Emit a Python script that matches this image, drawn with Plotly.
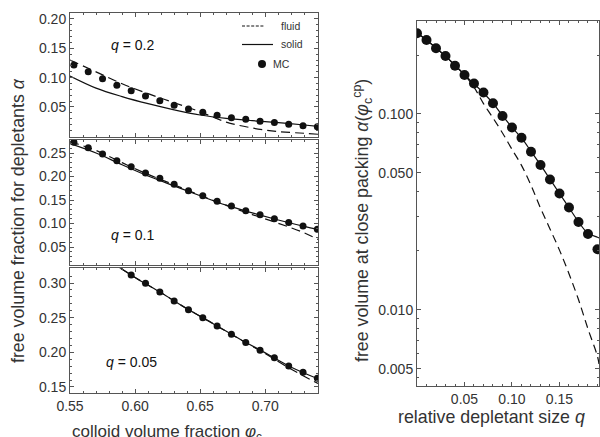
import plotly.graph_objects as go

# ---------------- data ----------------
# left panels: free volume fraction vs colloid volume fraction
phi_mc = [0.553, 0.564, 0.575, 0.586, 0.597, 0.608, 0.619, 0.630, 0.641,
          0.652, 0.663, 0.674, 0.685, 0.696, 0.707, 0.718, 0.729, 0.740]
mc_q02 = [0.1216, 0.1102, 0.0982, 0.0870, 0.0778, 0.0688, 0.0607, 0.0529, 0.0466,
          0.0410, 0.0359, 0.0318, 0.0290, 0.0256, 0.0236, 0.0207, 0.0181, 0.0164]
mc_q01 = [0.2728, 0.2613, 0.2479, 0.2336, 0.2209, 0.2074, 0.1962, 0.1834, 0.1698,
          0.1591, 0.1472, 0.1372, 0.1272, 0.1187, 0.1102, 0.1021, 0.0947, 0.0877]
phi_mc_q005 = [0.597, 0.608, 0.619, 0.630, 0.641, 0.652, 0.663, 0.674, 0.685,
               0.696, 0.707, 0.718, 0.729, 0.740]
mc_q005 = [0.3115, 0.2996, 0.2870, 0.2740, 0.2615, 0.2500, 0.2380, 0.2260, 0.2142,
           0.2029, 0.1923, 0.1803, 0.1712, 0.1625]

phi_line = [0.55, 0.57, 0.59, 0.61, 0.63, 0.65, 0.67, 0.69, 0.71, 0.73, 0.7405]
fluid_q02 = [0.130, 0.1099, 0.0896, 0.0727, 0.0573, 0.0418, 0.0243, 0.0142, 0.0081, 0.0052, 0.0035]
solid_q02 = [0.1028, 0.0822, 0.0677, 0.0556, 0.0452, 0.0364, 0.0306, 0.0267, 0.0233, 0.0193, 0.0171]
fluid_q01 = [0.274, 0.2555, 0.2295, 0.2045, 0.1825, 0.160, 0.1385, 0.119, 0.1005, 0.080, 0.066]
solid_q01 = [0.270, 0.250, 0.225, 0.201, 0.180, 0.159, 0.139, 0.1225, 0.1075, 0.094, 0.0873]
phi_line_q005 = [0.58, 0.60, 0.62, 0.64, 0.66, 0.68, 0.70, 0.72, 0.7405]
fluid_q005 = [0.332, 0.308, 0.2858, 0.2627, 0.2413, 0.2192, 0.1980, 0.1755, 0.155]
solid_q005 = [0.332, 0.308, 0.2858, 0.2627, 0.2413, 0.2196, 0.1992, 0.1785, 0.1618]

# right panel: free volume at close packing vs relative depletant size
q_mc = [0.00, 0.01, 0.02, 0.03, 0.04, 0.05, 0.06, 0.07, 0.08, 0.09,
        0.10, 0.11, 0.12, 0.13, 0.14, 0.15, 0.16, 0.17, 0.18, 0.19]
cp_mc = [0.258, 0.2385, 0.2164, 0.1976, 0.1764, 0.158, 0.143, 0.1287, 0.1134, 0.0977,
         0.0853, 0.0756, 0.0642, 0.0549, 0.0463, 0.0393, 0.0333, 0.0281, 0.0244, 0.0204]
q_line = [0.00, 0.01, 0.02, 0.03, 0.04, 0.05, 0.06, 0.07, 0.08, 0.09,
          0.10, 0.11, 0.12, 0.13, 0.14, 0.15, 0.16, 0.17, 0.18, 0.19, 0.1916]
cp_solid = [0.259, 0.2385, 0.217, 0.1975, 0.177, 0.1585, 0.1425, 0.128, 0.1135, 0.098,
            0.0855, 0.0755, 0.0645, 0.055, 0.0465, 0.0393, 0.0333, 0.0282, 0.0246, 0.0235, 0.0233]
cp_fluid = [0.259, 0.2385, 0.217, 0.1975, 0.177, 0.1585, 0.137, 0.113, 0.0955, 0.080,
            0.066, 0.0547, 0.0433, 0.0331, 0.0259, 0.0202, 0.0153, 0.0113, 0.0080, 0.0058, 0.0053]

left_xticks = [0.55, 0.60, 0.65, 0.70]
yticks_q02 = [0.05, 0.10, 0.15, 0.20]
yticks_q01 = [0.05, 0.10, 0.15, 0.20, 0.25]
yticks_q005 = [0.15, 0.20, 0.25, 0.30]
right_xticks = [0.05, 0.10, 0.15]
right_yticks = [0.005, 0.010, 0.050, 0.100]
right_yticklabels = ["0.005", "0.010", "0.050", "0.100"]
right_yminor = [0.0045, 0.006, 0.007, 0.008, 0.009, 0.02, 0.03, 0.04, 0.06, 0.07, 0.08, 0.09, 0.2]

# ---------------- figure ----------------
W, H = 600, 437
FONT = "Liberation Sans"
INK = "#111111"
FRAME = "#555555"
TXT = "#333333"


def px(x):
    return x / W


def py(y):
    return 1 - y / H


fig = go.Figure()

DASH_L = "9px,5px"


def add_panel(xa, ya, phx, fl, so, phm, mc, msize=7):
    fig.add_trace(go.Scatter(x=phx, y=fl, mode="lines", line=dict(color=INK, width=1.2, dash=DASH_L, shape="spline"),
                             xaxis=xa, yaxis=ya, showlegend=False, hoverinfo="skip"))
    fig.add_trace(go.Scatter(x=phx, y=so, mode="lines", line=dict(color=INK, width=1.2, shape="spline"),
                             xaxis=xa, yaxis=ya, showlegend=False, hoverinfo="skip"))
    fig.add_trace(go.Scatter(x=phm, y=mc, mode="markers", marker=dict(color=INK, size=msize),
                             xaxis=xa, yaxis=ya, showlegend=False))


add_panel("x", "y", phi_line, fluid_q02, solid_q02, phi_mc, mc_q02)
add_panel("x2", "y2", phi_line, fluid_q01, solid_q01, phi_mc, mc_q01)
add_panel("x3", "y3", phi_line_q005, fluid_q005, solid_q005, phi_mc_q005, mc_q005)

fig.add_trace(go.Scatter(x=q_line, y=cp_fluid, mode="lines", line=dict(color=INK, width=1.2, dash="8px,5px", shape="spline"),
                         xaxis="x4", yaxis="y4", showlegend=False, hoverinfo="skip"))
fig.add_trace(go.Scatter(x=q_line, y=cp_solid, mode="lines", line=dict(color=INK, width=1.2, shape="spline"),
                         xaxis="x4", yaxis="y4", showlegend=False, hoverinfo="skip"))
fig.add_trace(go.Scatter(x=q_mc, y=cp_mc, mode="markers", marker=dict(color=INK, size=10),
                         xaxis="x4", yaxis="y4", showlegend=False))

base = dict(showline=True, linecolor=FRAME, linewidth=1, mirror="allticks", ticks="inside", ticklen=4,
            tickcolor=FRAME, tickwidth=1, showgrid=False, zeroline=False, automargin=False,
            tickfont=dict(family=FONT, size=14, color=TXT))

left_dom = [px(70), px(318)]
xr = [0.55, 0.7405]
minor_x = dict(ticks="inside", ticklen=2, tickcolor=FRAME, dtick=0.01, tick0=0.55, showgrid=False)
minor_y = dict(ticks="inside", ticklen=2, tickcolor=FRAME, dtick=0.01, tick0=0.0, showgrid=False)

fig.update_layout(
    template="none",
    width=W, height=H, margin=dict(l=0, r=0, t=0, b=0, pad=0, autoexpand=False),
    paper_bgcolor="white", plot_bgcolor="white", showlegend=False,
    font=dict(family=FONT, color=TXT),
    xaxis=dict(base, domain=left_dom, range=xr, anchor="y", tickvals=left_xticks, showticklabels=False, minor=minor_x),
    xaxis2=dict(base, domain=left_dom, range=xr, anchor="y2", tickvals=left_xticks, showticklabels=False, minor=minor_x),
    xaxis3=dict(base, domain=left_dom, range=xr, anchor="y3", tickvals=left_xticks, tickformat=".2f", minor=minor_x),
    yaxis=dict(base, domain=[py(136.5), py(13)], range=[-0.0003, 0.2102], anchor="x", tickvals=yticks_q02,
               tickformat=".2f", minor=minor_y),
    yaxis2=dict(base, domain=[py(265), py(140)], range=[0.0117, 0.2777], anchor="x2", tickvals=yticks_q01,
                tickformat=".2f", minor=minor_y),
    yaxis3=dict(base, domain=[py(393), py(268.3)], range=[0.1413, 0.3212], anchor="x3", tickvals=yticks_q005,
                tickformat=".2f", minor=minor_y),
    xaxis4=dict(base, domain=[px(417), px(599)], range=[0.0, 0.1916], anchor="y4", tickvals=right_xticks,
                tickformat=".2f", minor=dict(ticks="inside", ticklen=2, tickcolor=FRAME, dtick=0.01, tick0=0.0)),
    yaxis4=dict(base, domain=[py(386), py(21)], type="log", range=[-2.388, -0.5255], anchor="x4",
                tickvals=right_yticks, ticktext=right_yticklabels,
                minor=dict(ticks="inside", ticklen=2, tickcolor=FRAME, tickvals=right_yminor)),
)


def A(x, y, text, font, xanchor="center", yanchor="middle", angle=0):
    return dict(x=px(x), y=py(y), text=text, showarrow=False, font=font, xref="paper", yref="paper",
                xanchor=xanchor, yanchor=yanchor, textangle=angle)


ann = []
tf = dict(family=FONT, size=14, color=INK)
ann.append(A(132, 45, "<i>q</i> = 0.2", tf))
ann.append(A(132, 235, "<i>q</i> = 0.1", tf))
ann.append(A(131, 362, "<i>q</i> = 0.05", tf))

titf = dict(family=FONT, size=17, color=TXT)
titf2 = dict(family=FONT, size=17.8, color=TXT)
ann.append(A(70, 420, "colloid volume fraction <i>φ</i><sub>c</sub>", titf, xanchor="left", yanchor="top"))
ann.append(A(18, 221, "free volume fraction for depletants <i>α</i>", titf2, angle=-90))
ann.append(A(492, 417, "relative depletant size <i>q</i>", titf2))
ann.append(A(362, 221, "free volume at close packing <i>α</i>(<i>φ</i><sub>c</sub><sup>cp</sup>)", titf2, angle=-90))

# legend (drawn as key shapes + labels)
lf = dict(family=FONT, size=10.5, color=TXT)
ann.append(A(279, 26, "fluid", lf, xanchor="left"))
ann.append(A(279, 44.5, "solid", lf, xanchor="left"))
ann.append(A(271, 64, "MC", lf, xanchor="left"))
fig.update_layout(annotations=ann)

fig.add_shape(type="line", xref="paper", yref="paper", x0=px(242), x1=px(264), y0=py(26), y1=py(26),
              line=dict(color=INK, width=1, dash="3px,1.6px"))
fig.add_shape(type="line", xref="paper", yref="paper", x0=px(242), x1=px(273), y0=py(44.5), y1=py(44.5),
              line=dict(color=INK, width=1.2))
fig.add_shape(type="circle", xref="paper", yref="paper", x0=px(258), x1=px(266), y0=py(68), y1=py(60),
              fillcolor=INK, line=dict(color=INK, width=0))

fig.write_html("out.html", config={"displayModeBar": False},
               post_script="document.body.style.margin='0px';document.body.style.overflow='hidden';")
